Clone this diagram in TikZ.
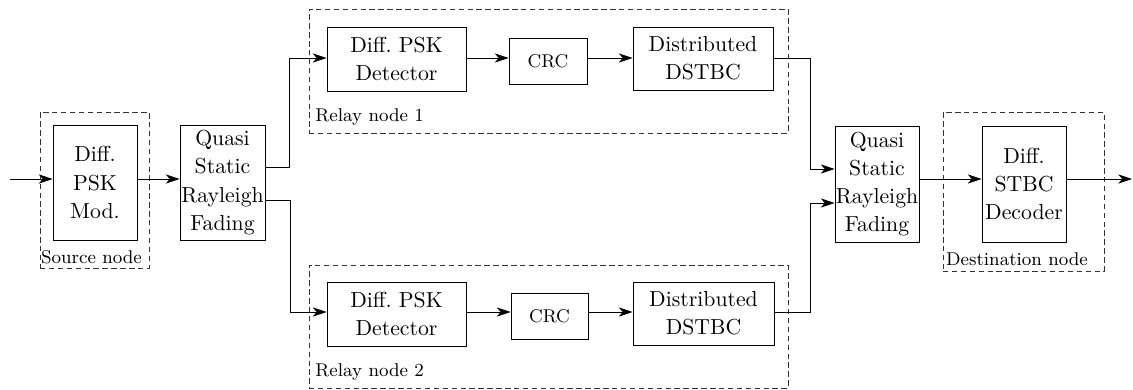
\documentclass[tikz,border=0pt]{standalone}
\usetikzlibrary{arrows.meta,calc}
\begin{document}
\begin{tikzpicture}[x=0.46pt,y=-0.46pt,
  line width=0.45pt,
  block/.style={draw,rectangle,align=center,inner sep=0pt,
    font=\fontsize{10}{13}\selectfont},
  group/.style={draw=black!80,rectangle,dash pattern=on 2.5pt off 1.6pt,inner sep=0pt},
  grouplabel/.style={inner sep=0pt,font=\fontsize{8.5}{10}\selectfont},
  arr/.style={-{Stealth[length=6.3pt,width=4.2pt,inset=1.8pt]}},
  bw/.style={minimum width=#1*0.46pt},
  bh/.style={minimum height=#1*0.46pt}]
\useasboundingbox (0,0) rectangle (1133,390);

% node groups (dashed)
\node[group,bw=109,bh=156] (src) at (94.5,190) {};
\node[group,bw=479,bh=124] (relA) at (548.5,71) {};
\node[group,bw=479,bh=123] (relB) at (548.5,326.5) {};
\node[group,bw=161,bh=159] (dst) at (1023.5,191.5) {};

% group labels
\node[grouplabel] (srclab) at (91.5,257) {Source node};
\node[grouplabel,anchor=west] (relAlab) at (315,117) {Relay node 1};
\node[grouplabel,anchor=west] (relBlab) at (315,372) {Relay node 2};
\node[grouplabel] (dstlab) at (1017,259) {Destination node};

% source and destination blocks
\node[block,bw=84,bh=115] (mod) at (95,182.5) {Diff.\\PSK\\Mod.};
\node[block,bw=85,bh=115] (qa) at (222.5,182.5) {Quasi\\Static\\Rayleigh\\Fading};
\node[block,bw=84,bh=116] (qb) at (877,184) {Quasi\\Static\\Rayleigh\\Fading};
\node[block,bw=84,bh=116] (dec) at (1024,184) {Diff.\\STBC\\Decoder};

% relay 1 chain
\node[block,bw=139,bh=64] (detA) at (396.5,59) {Diff.\ PSK\\Detector};
\node[block,bw=78,bh=46,font=\fontsize{8.5}{10}\selectfont] (crcA) at (548,61) {CRC};
\node[block,bw=140,bh=63] (stbA) at (703,58.5) {Distributed\\DSTBC};

% relay 2 chain
\node[block,bw=139,bh=64] (detB) at (396.5,314) {Diff.\ PSK\\Detector};
\node[block,bw=77,bh=46,font=\fontsize{8.5}{10}\selectfont] (crcB) at (549.5,316) {CRC};
\node[block,bw=141,bh=63] (stbB) at (703.5,313.5) {Distributed\\DSTBC};

% routing points
\coordinate (in) at (10,179);
\coordinate (out) at (1132,179);
\coordinate (rowA) at (0,58);
\coordinate (rowB) at (0,312);
\coordinate (splitA) at (289,167);
\coordinate (splitB) at (290,200);
\coordinate (joinA) at (810,169);
\coordinate (joinB) at (810,203);

% source side
\draw[arr] (in) -- (in -| mod.west);
\draw[arr] (in -| mod.east) -- (in -| qa.west);

% split towards the relays
\draw[arr] (splitA -| qa.east) -- (splitA) |- (rowA -| detA.west);
\draw[arr] (splitB -| qa.east) -- (splitB) |- (rowB -| detB.west);

% relay chains
\draw[arr] (rowA -| detA.east) -- (rowA -| crcA.west);
\draw[arr] (rowA -| crcA.east) -- (rowA -| stbA.west);
\draw[arr] (rowB -| detB.east) -- (rowB -| crcB.west);
\draw[arr] (rowB -| crcB.east) -- (rowB -| stbB.west);

% join at the second channel
\draw[arr] (rowA -| stbA.east) -| (joinA) -- (joinA -| qb.west);
\draw[arr] (rowB -| stbB.east) -| (joinB) -- (joinB -| qb.west);

% destination side
\draw[arr] (in -| qb.east) -- (in -| dec.west);
\draw[arr] (in -| dec.east) -- (out);
\end{tikzpicture}
\end{document}
